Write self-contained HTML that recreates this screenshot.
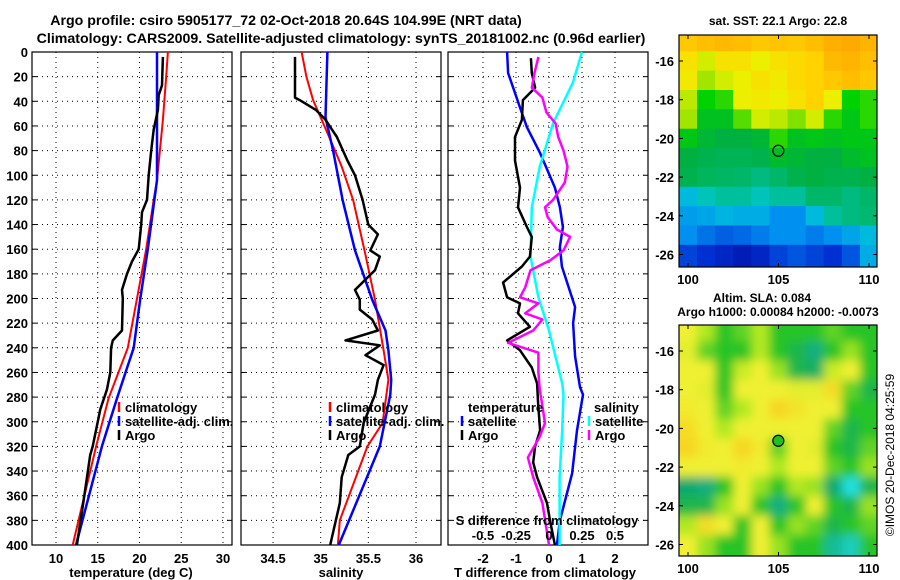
<!DOCTYPE html>
<html><head><meta charset="utf-8">
<style>
html,body{margin:0;padding:0;background:#fff;}
svg{display:block;font-family:"Liberation Sans",Arial,sans-serif;font-weight:bold;}
</style></head>
<body>
<svg id="chart" width="900" height="580" viewBox="0 0 900 580" xmlns="http://www.w3.org/2000/svg">
<defs>
<clipPath id="clipMap1"><rect x="679" y="35" width="198" height="232"/></clipPath>
<clipPath id="clipMap2"><rect x="679" y="325" width="198" height="231"/></clipPath>
<filter id="blur2" x="-10%" y="-10%" width="120%" height="120%"><feGaussianBlur stdDeviation="5"/></filter>
</defs>
<text x="286" y="25" font-size="14.2" text-anchor="middle">Argo profile: csiro 5905177_72 02-Oct-2018 20.64S 104.99E (NRT data)</text>
<text x="341" y="43" font-size="14.2" text-anchor="middle">Climatology: CARS2009. Satellite-adjusted climatology: synTS_20181002.nc (0.96d earlier)</text>
<text x="778" y="25" font-size="12" text-anchor="middle">sat. SST: 22.1 Argo: 22.8</text>
<text x="762" y="302" font-size="12" text-anchor="middle">Altim. SLA: 0.084</text>
<text x="778" y="316" font-size="12" text-anchor="middle">Argo h1000: 0.00084 h2000: -0.0073</text>
<text transform="translate(894,455) rotate(-90)" font-size="12" font-weight="normal" text-anchor="middle">©IMOS 20-Dec-2018 04:25:59</text>
</svg>
<script>
// ---------- data ----------
const depthTicks=[0,20,40,60,80,100,120,140,160,180,200,220,240,260,280,300,320,340,360,380,400];
const tempTicks=[10,15,20,25,30];
const salTicks=[34.5,35,35.5,36];
const tdiffTicks=[-2,-1,0,1,2];
const sdiffTicks=[-0.5,-0.25,0,0.25,0.5];
const sdiffTickLabels=["-0.5","-0.25","0","0.25","0.5"];

const tClimDepth=[0,20,55,104,120,160,200,240,281,320,400];
const tClimVal=[23.4,23.2,22.8,22.1,21.7,20.8,19.7,18.6,16.3,14.8,12.0];
const tSatDepth=[0,104,160,200,240,281,320,400];
const tSatVal=[22.1,22.1,21.0,20.1,19.3,17.3,15.5,12.4];
const tArgoDepth=[4,27,35,47,63,80,100,120,130,140,160,170,180,193,200,226,234,240,260,274,290,320,327,364,400];
const tArgoVal=[22.8,22.7,22.3,22.2,21.7,21.4,21.1,20.9,20.3,20.2,19.9,19.1,18.5,17.9,18.0,17.9,16.8,16.6,16.5,16.1,15.3,14.4,14.1,13.3,12.5];

const sClimDepth=[0,20,39,55,80,93,120,161,201,242,266,301,320,380,400];
const sClimVal=[34.8,34.85,34.92,35.01,35.15,35.22,35.34,35.46,35.57,35.66,35.71,35.65,35.49,35.2,35.18];
const sSatDepth=[0,53,80,120,161,201,226,242,266,278,320,400];
const sSatVal=[35.07,35.05,35.13,35.23,35.36,35.54,35.68,35.71,35.74,35.73,35.62,35.19];
const sArgoDepth=[4,37,39,47,55,69,88,100,120,140,148,161,166,177,193,201,209,217,226,234,238,246,254,266,278,301,320,327,345,366,400];
const sArgoVal=[34.73,34.73,34.78,34.95,35.05,35.17,35.28,35.36,35.44,35.5,35.6,35.52,35.62,35.57,35.36,35.41,35.41,35.54,35.6,35.26,35.62,35.47,35.66,35.6,35.57,35.45,35.41,35.29,35.22,35.2,35.1];

const dtSatDepth=[0,17,45,61,82,110,126,142,158,174,207,220,247,272,278,307,342,380,400];
const dtSatVal=[-1.27,-1.24,-0.88,-0.67,-0.27,0.18,0.33,0.42,0.33,0.39,0.79,0.73,0.79,0.94,1.03,0.85,0.70,0.33,0.24];
const dtArgoDepth=[5,17,29,39,55,69,88,110,126,142,150,166,174,187,199,204,212,223,234,242,256,269,285,307,320,333,345,366,380,400];
const dtArgoVal=[-0.55,-0.52,-0.42,-0.79,-0.82,-1.03,-1.03,-0.88,-0.94,-0.67,-0.52,-0.58,-0.82,-1.39,-1.27,-0.88,-0.94,-0.58,-1.27,-0.88,-0.52,-0.36,-0.33,-0.27,-0.42,-0.48,-0.36,-0.06,0.03,0.18];
const dsSatDepth=[0,25,58,93,126,166,199,226,256,269,278,307,345,400];
const dsSatVal=[0.25,0.18,0.03,-0.07,-0.13,-0.14,-0.08,0.0,0.07,0.1,0.11,0.1,0.08,0.08];
const dsArgoDepth=[4,17,29,37,49,58,69,80,93,106,120,126,134,144,150,161,169,177,191,199,204,212,217,226,236,244,260,274,301,312,329,345,366,400];
const dsArgoVal=[-0.08,-0.11,-0.13,-0.05,-0.02,0.05,0.07,0.11,0.14,0.12,0.03,-0.03,-0.01,0.06,0.16,0.11,0.01,-0.14,-0.18,-0.22,-0.08,-0.18,-0.05,-0.12,-0.31,-0.08,-0.08,-0.07,-0.03,-0.07,-0.16,-0.12,-0.05,0.0];

const mapLonTicks=[100,105,110];
const mapLatTicks=[-16,-18,-20,-22,-24,-26];
const sstGrid=[
[0.82,0.84,0.85,0.84,0.82,0.83,0.82,0.84,0.87,0.88,0.86],
[0.76,0.7,0.76,0.76,0.72,0.76,0.78,0.8,0.85,0.86,0.84],
[0.74,0.66,0.7,0.72,0.76,0.74,0.78,0.8,0.82,0.84,0.82],
[0.68,0.58,0.6,0.72,0.74,0.72,0.76,0.8,0.72,0.58,0.6],
[0.66,0.55,0.55,0.62,0.7,0.68,0.64,0.7,0.6,0.56,0.6],
[0.56,0.53,0.52,0.52,0.53,0.6,0.55,0.56,0.55,0.56,0.56],
[0.52,0.5,0.49,0.49,0.5,0.54,0.53,0.52,0.52,0.54,0.55],
[0.5,0.48,0.47,0.46,0.44,0.46,0.5,0.52,0.5,0.5,0.52],
[0.36,0.4,0.42,0.42,0.4,0.42,0.42,0.46,0.46,0.44,0.46],
[0.32,0.33,0.35,0.34,0.34,0.3,0.3,0.36,0.42,0.44,0.45],
[0.3,0.27,0.25,0.26,0.28,0.3,0.3,0.28,0.3,0.33,0.36],
[0.22,0.2,0.18,0.16,0.18,0.22,0.24,0.22,0.2,0.24,0.34]
];
const slaGrid=[
[0.72,0.62,0.5,0.55,0.62,0.5,0.5,0.5,0.55,0.5,0.5],
[0.7,0.55,0.5,0.5,0.62,0.5,0.45,0.38,0.5,0.6,0.5],
[0.72,0.72,0.5,0.66,0.72,0.6,0.45,0.42,0.66,0.72,0.5],
[0.72,0.7,0.5,0.72,0.72,0.72,0.7,0.7,0.78,0.55,0.45],
[0.74,0.72,0.55,0.62,0.72,0.8,0.76,0.72,0.72,0.5,0.5],
[0.78,0.72,0.62,0.72,0.72,0.72,0.72,0.72,0.55,0.45,0.5],
[0.8,0.74,0.72,0.8,0.74,0.55,0.72,0.7,0.5,0.45,0.55],
[0.72,0.72,0.72,0.74,0.72,0.62,0.72,0.72,0.55,0.5,0.6],
[0.4,0.38,0.5,0.72,0.6,0.5,0.62,0.6,0.4,0.25,0.45],
[0.45,0.45,0.6,0.72,0.5,0.38,0.5,0.72,0.5,0.45,0.6],
[0.62,0.78,0.72,0.5,0.72,0.5,0.6,0.55,0.45,0.5,0.55],
[0.72,0.6,0.5,0.5,0.72,0.6,0.5,0.5,0.35,0.3,0.5]
];

// ---------- helpers ----------
const NS='http://www.w3.org/2000/svg';
const svg=document.getElementById('chart');
function mk(tag,attrs,parent){const e=document.createElementNS(NS,tag);for(const k in attrs)e.setAttribute(k,attrs[k]);(parent||svg).appendChild(e);return e;}
const TOP=52,BOT=545;
function yD(d){return TOP+(BOT-TOP)*d/400;}
function xT(t){return 56+(t-10)*8.35;}
function xS(s){return 320.7+(s-35)*95.3;}
function xDT(v){return 549+v*33;}
function xDS(v){return 549+v*132;}
function pathFrom(depths,vals,fx){let p='';for(let i=0;i<depths.length;i++){p+=(i?'L':'M')+fx(vals[i]).toFixed(1)+','+yD(depths[i]).toFixed(1);}return p;}

function panel(x0,x1,name,xTickVals,xfn,yLabels){
  const g=mk('g',{});
  
  
  depthTicks.forEach(d=>{
    if(d>0&&d<400){const l=mk('line',{x1:x0,x2:x1,y1:yD(d),y2:yD(d),stroke:'#000','stroke-width':1,'stroke-dasharray':'1,4'},g);
    
    }
    mk('line',{x1:x0,x2:x0+5,y1:yD(d),y2:yD(d),stroke:'#000'},g);
    mk('line',{x1:x1-5,x2:x1,y1:yD(d),y2:yD(d),stroke:'#000'},g);
    if(yLabels){const t=mk('text',{x:28,y:yD(d)+5,'font-size':13,'text-anchor':'end'},g);t.textContent=d;
      
      }
  });
  xTickVals.forEach(v=>{const x=xfn(v);
    const l=mk('line',{x1:x,x2:x,y1:TOP,y2:BOT,stroke:'#000','stroke-width':1,'stroke-dasharray':'1,4'},g);
    
    
  });
  const r=mk('rect',{x:x0,y:TOP,width:x1-x0,height:BOT-TOP,fill:'none',stroke:'#000','stroke-width':1.2},g);
  
  
  return g;
}
function series(g,depths,vals,fx,color,w,name){
  const p=mk('path',{d:pathFrom(depths,vals,fx),fill:'none',stroke:color,'stroke-width':w,'stroke-linejoin':'round'},g);
  
  
}
function label(g,x,y,txt,size,anchor,name){
  const t=mk('text',{x:x,y:y,'font-size':size,'text-anchor':anchor||'middle'},g);t.textContent=txt;
  
  
  return t;
}
function legendMark(g,x,y,color,name){
  const l=mk('line',{x1:x,x2:x,y1:y-10,y2:y,stroke:color,'stroke-width':2.5},g);
  
  
}

// ---------- panel 1 ----------
const g1=panel(32,232,'temperature-panel',tempTicks,xT,true);
tempTicks.forEach(v=>label(g1,xT(v),563,String(v),13,'middle','temperature-tick-label'));
label(g1,131,577,'temperature (deg C)',13,'middle','temperature-axis-title');
series(g1,tClimDepth,tClimVal,xT,'#f00',2,'temperature-climatology-line');
series(g1,tSatDepth,tSatVal,xT,'#00f',2.5,'temperature-satellite-line');
series(g1,tArgoDepth,tArgoVal,xT,'#000',2.5,'temperature-argo-line');
legendMark(g1,119,412,'#f00','legend-climatology-mark');label(g1,125,412,'climatology',13,'start','legend-climatology');
legendMark(g1,119,426,'#00f','legend-satellite-mark');label(g1,125,426,'satellite-adj. clim.',13,'start','legend-satellite-adj');
legendMark(g1,119,440,'#000','legend-argo-mark');label(g1,125,440,'Argo',13,'start','legend-argo');

// ---------- panel 2 ----------
const g2=panel(241,441,'salinity-panel',salTicks,xS,false);
salTicks.forEach(v=>label(g2,xS(v),563,String(v),13,'middle','salinity-tick-label'));
label(g2,341,577,'salinity',13,'middle','salinity-axis-title');
series(g2,sClimDepth,sClimVal,xS,'#f00',2,'salinity-climatology-line');
series(g2,sSatDepth,sSatVal,xS,'#00f',2.5,'salinity-satellite-line');
series(g2,sArgoDepth,sArgoVal,xS,'#000',2.5,'salinity-argo-line');
legendMark(g2,330,412,'#f00','legend-climatology-mark');label(g2,336,412,'climatology',13,'start','legend-climatology');
legendMark(g2,330,426,'#00f','legend-satellite-mark');label(g2,336,426,'satellite-adj. clim.',13,'start','legend-satellite-adj');
legendMark(g2,330,440,'#000','legend-argo-mark');label(g2,336,440,'Argo',13,'start','legend-argo');

// ---------- panel 3 ----------
const g3=panel(448,648,'difference-panel',tdiffTicks,xDT,false);
series(g3,dtSatDepth,dtSatVal,xDT,'#00f',2.5,'tdiff-satellite-line');
series(g3,dsSatDepth,dsSatVal,xDS,'#0ff',2.5,'sdiff-satellite-line');
series(g3,dtArgoDepth,dtArgoVal,xDT,'#000',2.5,'tdiff-argo-line');
series(g3,dsArgoDepth,dsArgoVal,xDS,'#f0f',2.5,'sdiff-argo-line');
tdiffTicks.forEach(v=>label(g3,xDT(v),563,String(v),13,'middle','tdiff-tick-label'));
sdiffTicks.forEach((v,i)=>label(g3,xDS(v),540,sdiffTickLabels[i],13,'middle','sdiff-tick-label'));
label(g3,547,525,'S difference from climatology',13,'middle','sdiff-axis-title');
label(g3,545,577,'T difference from climatology',13,'middle','tdiff-axis-title');
label(g3,468,412,'temperature',13,'start','legend-temperature-heading');
legendMark(g3,462,426,'#00f','legend-t-satellite-mark');label(g3,468,426,'satellite',13,'start','legend-t-satellite');
legendMark(g3,462,440,'#000','legend-t-argo-mark');label(g3,468,440,'Argo',13,'start','legend-t-argo');
label(g3,594,412,'salinity',13,'start','legend-salinity-heading');
legendMark(g3,589,426,'#0ff','legend-s-satellite-mark');label(g3,595,426,'satellite',13,'start','legend-s-satellite');
legendMark(g3,589,440,'#f0f','legend-s-argo-mark');label(g3,595,440,'Argo',13,'start','legend-s-argo');

// ---------- maps ----------
function lerpColor(stops,v){
  if(v<=stops[0][0])return stops[0][1];
  for(let i=1;i<stops.length;i++){if(v<=stops[i][0]){const a=stops[i-1],b=stops[i],f=(v-a[0])/(b[0]-a[0]);
    return [0,1,2].map(k=>Math.round(a[1][k]+(b[1][k]-a[1][k])*f));}}
  return stops[stops.length-1][1];
}
const sstStops=[[0.1,[0,0,140]],[0.2,[0,48,210]],[0.3,[0,144,240]],[0.38,[0,200,216]],[0.45,[0,184,112]],[0.52,[0,176,64]],[0.58,[0,210,0]],[0.65,[150,228,0]],[0.72,[236,240,0]],[0.8,[255,210,0]],[0.9,[255,160,0]]];
const slaStops=[[0.25,[32,224,224]],[0.4,[16,168,112]],[0.5,[40,196,40]],[0.62,[176,232,32]],[0.72,[240,240,48]],[0.82,[248,208,32]]];
function drawMapAt(top,bot,lat16y,grid,stops,name,clip,blur){
  const mg=mk('g',{});
  
  
  const x0=679,x1=877;
  const lonX=lon=>688+(lon-100)*18.1;
  const latY=lat=>lat16y+(-16-lat)*19.35;
  const cg=mk('g',{'clip-path':'url(#'+clip+')'},mg);
  const inner=mk('g',blur?{filter:'url(#blur2)'}:{},cg);
  const rows=grid.length,cols=grid[0].length;
  const pad=blur?14:0;
  grid.forEach((row,r)=>row.forEach((v,c)=>{
    const cx=lonX(100+c), cy=latY(-15-r);
    const col=lerpColor(stops,v);
    const rx=(c===0?x0-pad:cx-9.05), rxe=(c===cols-1?x1+pad:cx+9.05);
    const ry=(r===0?top-pad:cy-9.7), rye=(r===rows-1?bot+pad:cy+9.7);
    const rc=mk('rect',{x:rx,y:ry,width:rxe-rx+0.6,height:rye-ry+0.6,fill:'rgb('+col.join(',')+')'},inner);
    
    
  }));
  const fr=mk('rect',{x:x0,y:top,width:x1-x0,height:bot-top,fill:'none',stroke:'#000','stroke-width':1.2},mg);
  
  
  mapLonTicks.forEach(l=>{const x=lonX(l);
    mk('line',{x1:x,x2:x,y1:top,y2:top+4,stroke:'#000'},mg);mk('line',{x1:x,x2:x,y1:bot-4,y2:bot,stroke:'#000'},mg);
    label(mg,x,bot+17,String(l),13,'middle','map-lon-tick-label');});
  mapLatTicks.forEach(l=>{const y=latY(l);
    mk('line',{x1:x0,x2:x0+4,y1:y,y2:y,stroke:'#000'},mg);mk('line',{x1:x1-4,x2:x1,y1:y,y2:y,stroke:'#000'},mg);
    label(mg,674,y+5,String(l),13,'end','map-lat-tick-label');});
  const m=mk('circle',{cx:lonX(104.99),cy:latY(-20.64),r:5.5,fill:blur?'#20c020':'none',stroke:'#000','stroke-width':1.2},mg);
  
  
}
drawMapAt(35,267,61,sstGrid,sstStops,'sst-map','clipMap1',false);
drawMapAt(325,556,351,slaGrid,slaStops,'sla-map','clipMap2',true);
</script>
</body></html>
